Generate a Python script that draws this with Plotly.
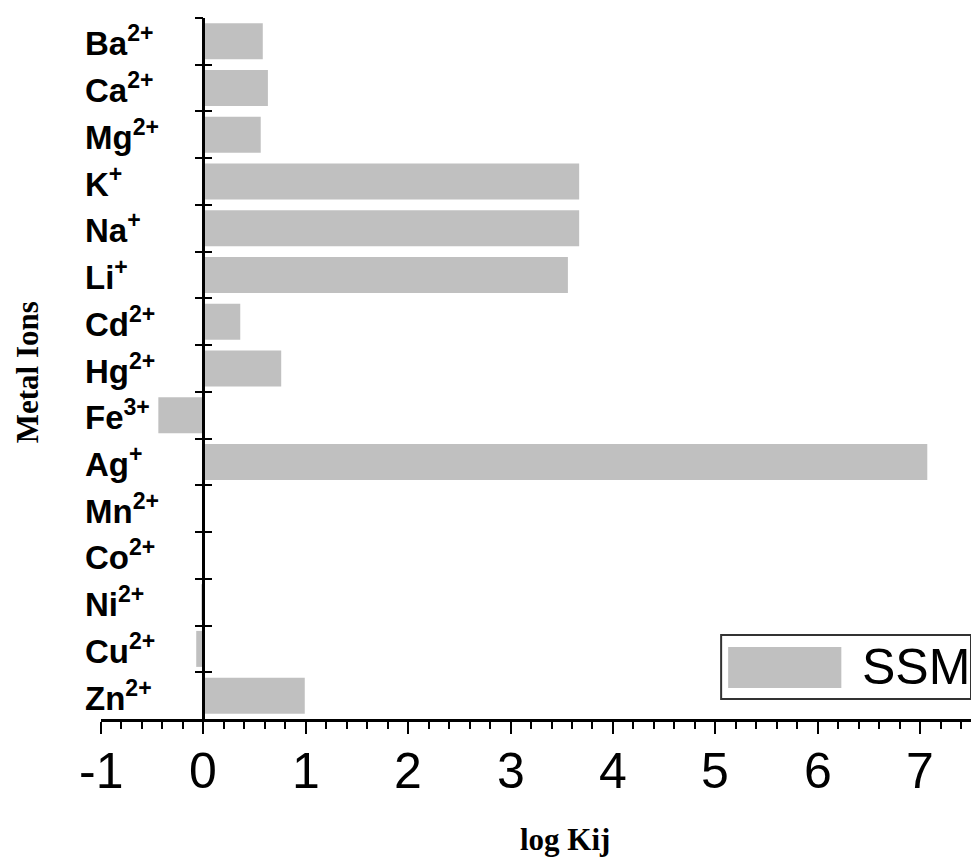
import plotly.graph_objects as go

ions = ["Ba<sup>2+</sup>", "Ca<sup>2+</sup>", "Mg<sup>2+</sup>", "K<sup>+</sup>", "Na<sup>+</sup>",
        "Li<sup>+</sup>", "Cd<sup>2+</sup>", "Hg<sup>2+</sup>", "Fe<sup>3+</sup>", "Ag<sup>+</sup>",
        "Mn<sup>2+</sup>", "Co<sup>2+</sup>", "Ni<sup>2+</sup>", "Cu<sup>2+</sup>", "Zn<sup>2+</sup>"]
log_kij = [0.58, 0.63, 0.56, 3.67, 3.67, 3.56, 0.36, 0.76, -0.44, 7.07, 0.0, 0.0, -0.02, -0.07, 0.99]
x_tickvals = [-1, 0, 1, 2, 3, 4, 5, 6, 7]
x_ticktext = ["-1", "0", "1", "2", "3", "4", "5", "6", "7"]
series_name = "SSM"

BAR = "#c0c0c0"
XMIN, XMAX = -1, 7.575
yaxis_pos = (0 - XMIN) / (XMAX - XMIN)

fig = go.Figure()
fig.add_trace(go.Bar(y=ions, x=log_kij, orientation="h", marker=dict(color=BAR, line=dict(width=0)),
                     name=series_name, showlegend=False))

# page has an 8px body margin, so the figure is 8px smaller on each side
fig.update_layout(
    width=971, height=850,
    margin=dict(l=93, r=0, t=10, b=139),
    paper_bgcolor="white", plot_bgcolor="white",
    bargap=0.23,
    xaxis=dict(range=[XMIN, XMAX], tickmode="array", tickvals=x_tickvals, ticktext=x_ticktext,
               showticklabels=False,
               ticks="outside", ticklen=12, tickwidth=2, tickcolor="black",
               showline=True, linewidth=2.5, linecolor="black", showgrid=False, zeroline=False,
               minor=dict(tick0=-1, dtick=0.2, ticks="outside", ticklen=7, tickwidth=2, tickcolor="black",
                          showgrid=False)),
    yaxis=dict(type="category", categoryorder="array", categoryarray=ions, range=[14.5, -0.5],
               anchor="free", position=yaxis_pos, showline=True, linewidth=2.5, linecolor="black",
               ticks="outside", tickson="boundaries", ticklen=8, tickwidth=2, tickcolor="black",
               showticklabels=False, showgrid=False, zeroline=False),
    yaxis2=dict(overlaying="y", anchor="free", position=yaxis_pos, range=[0, 15], dtick=1,
                ticks="inside", ticklen=8, tickwidth=2, tickcolor="black", showticklabels=False,
                showgrid=False, zeroline=False, showline=False),
)

fig.add_trace(go.Scatter(x=[None], y=[None], yaxis="y2", showlegend=False, hoverinfo="skip"))

# x tick labels
for v, t in zip(x_tickvals, x_ticktext):
    fig.add_annotation(x=v, xref="x", y=-0.074, yref="paper", text=t, showarrow=False,
                       xanchor="center", yanchor="middle",
                       font=dict(family="Liberation Sans, Arial", size=50, color="black"))

# category labels (left aligned)
for ion in ions:
    fig.add_annotation(x=-0.02, xref="paper", y=ion, yref="y", text="<b>" + ion + "</b>", showarrow=False,
                       xanchor="left", yanchor="middle",
                       font=dict(family="Liberation Sans, Arial", size=33, color="black"))

# axis titles
fig.add_annotation(x=-0.084, xref="paper", y=0.495, yref="paper", text="<b>Metal Ions</b>",
                   textangle=-90, showarrow=False, xanchor="center", yanchor="middle",
                   font=dict(family="Liberation Serif, Times New Roman", size=31, color="black"))
fig.add_annotation(x=0.5286, xref="paper", y=-0.1726, yref="paper", text="<b>log Kij</b>",
                   showarrow=False, xanchor="center", yanchor="middle",
                   font=dict(family="Liberation Serif, Times New Roman", size=31, color="black"))

# legend box
fig.add_shape(type="rect", xref="paper", yref="paper", x0=0.7063, x1=0.9909, y0=0.0285, y1=0.1198,
              line=dict(color="#333333", width=2), fillcolor="white", layer="above")
fig.add_shape(type="rect", xref="paper", yref="paper", x0=0.7143, x1=0.8432, y0=0.0442, y1=0.1027,
              line=dict(width=0), fillcolor=BAR, layer="above")
fig.add_annotation(x=0.8645, xref="paper", y=0.0742, yref="paper", text=series_name, showarrow=False,
                   xanchor="left", yanchor="middle",
                   font=dict(family="Liberation Sans, Arial", size=50, color="black"))

fig.write_html("out.html")
